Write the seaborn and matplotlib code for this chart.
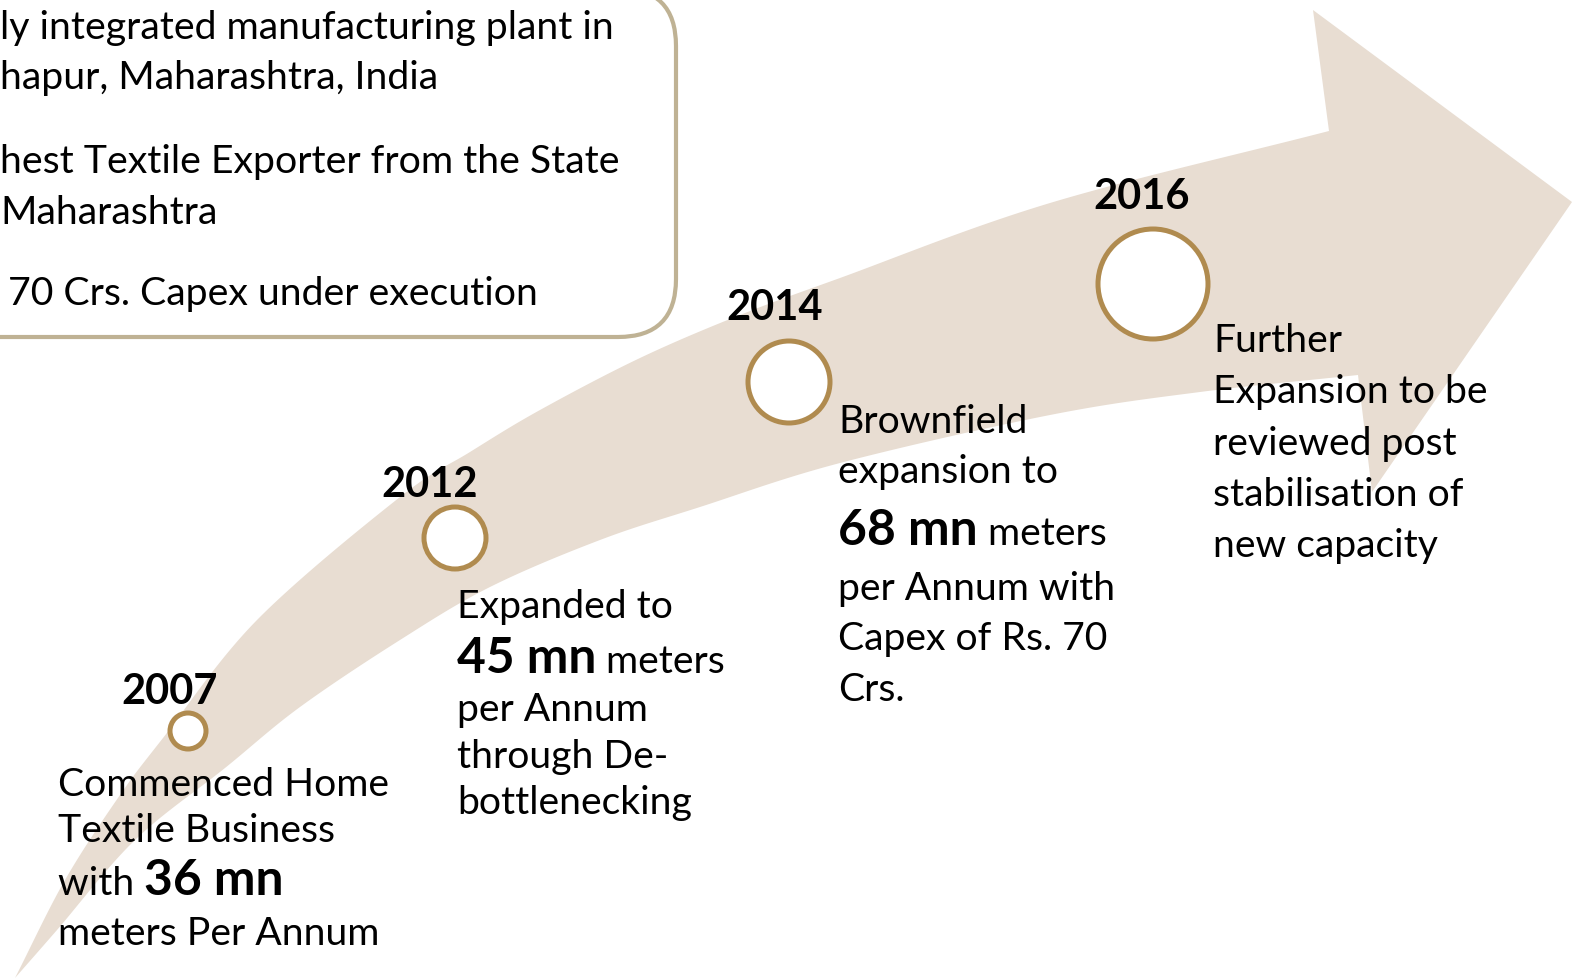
import numpy as np
import pandas as pd
import seaborn as sns
import matplotlib.pyplot as plt
from matplotlib.patches import FancyBboxPatch

# ---- data -------------------------------------------------------------
years = ["2007", "2012", "2014", "2016"]
capacity_mn = [36, 45, 68, None]
milestone_text = [
    ["Commenced Home", "Textile Business", "with {cap}", "meters Per Annum"],
    ["Expanded to", "{cap} meters", "per Annum", "through De-", "bottlenecking"],
    ["Brownfield", "expansion to", "{cap} meters", "per Annum with",
     "Capex of Rs. 70", "Crs."],
    ["Further", "Expansion to be", "reviewed post", "stabilisation of",
     "new capacity"],
]
highlights = [
    "ly integrated manufacturing plant in",
    "hapur, Maharashtra, India",
    "hest Textile Exporter from the State",
    "Maharashtra",
    "70 Crs. Capex under execution",
]

# ---- layout (pixel space, y down) -------------------------------------
W, H = 1575, 980
node_x = [188, 455, 789, 1153]
node_y = [731, 538, 382, 284]
node_r = [18, 31, 41, 55]
year_x = [170, 430, 775, 1142]
year_y = [704, 497, 320, 209]
text_x = [58, 457, 838, 1213]
text_base = [
    [796, 842, 895, 945],
    [618, 673, 721, 768, 814],
    [433, 483, 545, 600, 650, 701],
    [352, 403, 455, 506, 557],
]
box_base = [39, 89, 173, 224, 305]
box_x = [0, 0, 0, 0, 8]

upper_edge = [(15, 978), (65, 880), (120, 795), (163, 738), (257, 620),
              (400, 497), (470, 452), (540, 410), (640, 358), (740, 315),
              (840, 278), (1050, 203), (1329, 131)]
arrow_head = [(1313, 10), (1572, 202), (1372, 492), (1358, 375)]
lower_edge = [(15, 978), (57, 930), (135, 840), (225, 768), (300, 707),
              (400, 640), (490, 587), (600, 540), (700, 507), (840, 463),
              (1050, 415), (1200, 392), (1358, 375)]

ARROW = "#E8DDD2"
RING = "#B08B4F"
BOX_EDGE = "#BFB294"
BODY_FS = 28.2
BOX_FS = 28.3
YEAR_FS = 30
NUM_FS = 35.8


def smooth(pts, n=24):
    # catmull-rom through the traced outline points
    p = np.asarray(pts, float)
    p = np.vstack([2 * p[0] - p[1], p, 2 * p[-1] - p[-2]])
    t = np.linspace(0, 1, n, endpoint=False)[:, None]
    out = []
    for i in range(1, len(p) - 2):
        p0, p1, p2, p3 = p[i - 1], p[i], p[i + 1], p[i + 2]
        out.append(0.5 * (2 * p1 + (-p0 + p2) * t
                          + (2 * p0 - 5 * p1 + 4 * p2 - p3) * t ** 2
                          + (-p0 + 3 * p1 - 3 * p2 + p3) * t ** 3))
    out.append(p[-2][None])
    return np.vstack(out)


def draw_line(ax, renderer, x, y, line, cap):
    parts = []
    if "{cap}" in line:
        before, after = line.split("{cap}")
        if before:
            parts.append((before, "normal", BODY_FS))
        parts.append((f"{cap} mn", "bold", NUM_FS))
        if after:
            parts.append((after, "normal", BODY_FS))
    else:
        parts.append((line, "normal", BODY_FS))
    for txt, weight, fs in parts:
        t = ax.text(x, y, txt, fontsize=fs, fontweight=weight,
                    ha="left", va="baseline", color="black", zorder=5)
        x += t.get_window_extent(renderer).width


def plot_timeline():
    sns.set_theme(style="white")
    plt.rcParams["font.family"] = ["Lato", "DejaVu Sans"]

    fig = plt.figure(figsize=(W / 100, H / 100), dpi=100)
    ax = fig.add_axes([0, 0, 1, 1])

    outline = np.vstack([smooth(upper_edge), np.array(arrow_head),
                         smooth(lower_edge)[::-1]])
    ax.fill(outline[:, 0], outline[:, 1], color=ARROW, lw=0, zorder=1)

    box = FancyBboxPatch((-80, -12), 756, 349,
                         boxstyle="round,pad=0,rounding_size=58",
                         fc="white", ec=BOX_EDGE, lw=3, zorder=2)
    ax.add_patch(box)
    for x, y, line in zip(box_x, box_base, highlights):
        ax.text(x, y, line, fontsize=BOX_FS, ha="left", va="baseline",
                color="black", zorder=3)

    nodes = pd.DataFrame({"year": years, "x": node_x, "y": node_y,
                          "r": node_r})
    sizes = (2 * nodes["r"] * 72 / 100) ** 2
    sns.scatterplot(data=nodes, x="x", y="y", s=sizes, color="white",
                    edgecolor=RING, linewidth=3.6, ax=ax, legend=False,
                    zorder=4)
    ax.set_xlim(0, W)
    ax.set_ylim(H, 0)
    ax.axis("off")

    for yr, x, y in zip(years, year_x, year_y):
        ax.text(x, y, yr, fontsize=YEAR_FS, fontweight="bold", ha="center",
                va="baseline", color="black", zorder=5)

    renderer = fig.canvas.get_renderer()
    for i, lines in enumerate(milestone_text):
        for line, y in zip(lines, text_base[i]):
            draw_line(ax, renderer, text_x[i], y, line, capacity_mn[i])

    fig.savefig("out.png", dpi=100, facecolor="white")
    return fig


plot_timeline()
